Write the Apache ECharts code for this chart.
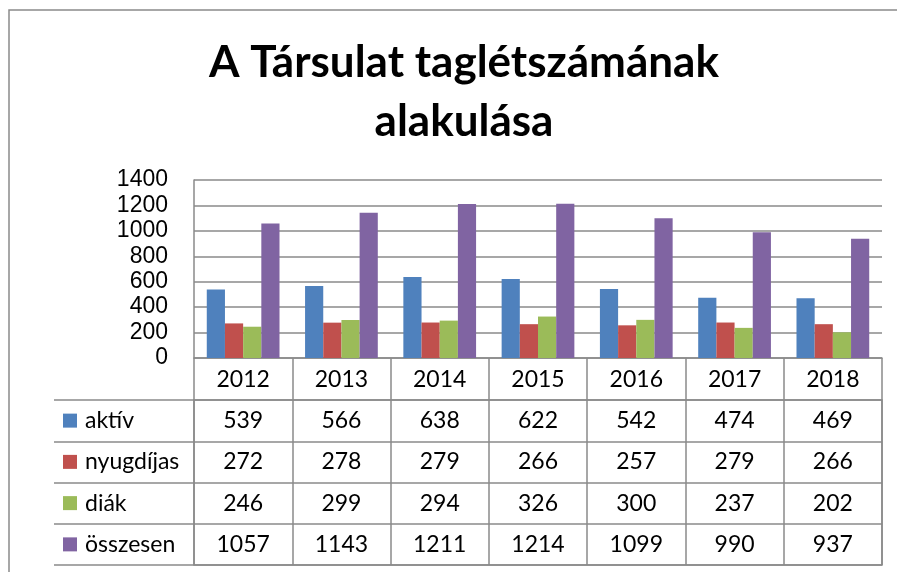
<!DOCTYPE html>
<html>
<head>
<meta charset="utf-8">
<script src="https://cdn.jsdelivr.net/npm/echarts@6/dist/echarts.min.js"></script>
<style>
  html, body { margin: 0; padding: 0; background: #fff; }
  #chart { width: 897px; height: 572px; }
</style>
</head>
<body>
<div id="chart"></div>
<script>
// évek és a tagság adatai
const years = ['2012', '2013', '2014', '2015', '2016', '2017', '2018'];
const seriesNames = ['aktív', 'nyugdíjas', 'diák', 'összesen'];
const aktiv = [539, 566, 638, 622, 542, 474, 469];
const nyugdijas = [272, 278, 279, 266, 257, 279, 266];
const diak = [246, 299, 294, 326, 300, 237, 202];
const osszesen = [1057, 1143, 1211, 1214, 1099, 990, 937];
const yTicks = [0, 200, 400, 600, 800, 1000, 1200, 1400];

const colors = ['#4F81BD', '#C0504D', '#9BBB59', '#8064A2'];
const lineColor = '#8a8a8a';
const tableFont = 'Lato';
const tableSize = 23;

const allValues = [aktiv, nyugdijas, diak, osszesen];

// adattábla cellái: [év, sor, érték]
const tableData = [];
allValues.forEach((vals, row) => {
    vals.forEach((v, col) => tableData.push([col, row, v]));
});

const chart = echarts.init(document.getElementById('chart'));

const rich = { t: { fontFamily: tableFont, fontSize: tableSize, color: '#000', padding: [0, 0, 0, 8] } };
colors.forEach((c, i) => {
    rich['s' + i] = { backgroundColor: c, width: 14, height: 14 };
});

const option = {
    animation: false,
    color: colors,
    title: {
        text: 'A Társulat taglétszámának\nalakulása',
        left: 459,
        textAlign: 'center',
        top: 28,
        textStyle: {
            fontFamily: tableFont,
            fontWeight: 'bold',
            fontSize: 44,
            lineHeight: 59,
            color: '#000'
        }
    },
    graphic: [{
        type: 'rect',
        shape: { x: 9, y: 10, width: 1000, height: 1000 },
        style: { fill: 'none', stroke: lineColor, lineWidth: 1.5 },
        silent: true
    }],
    grid: [
        { left: 194, right: 15, top: 180, height: 178 },
        { left: 194, right: 15, top: 400, height: 165, show: true, borderColor: lineColor, borderWidth: 1.5 }
    ],
    xAxis: [{
        type: 'category',
        gridIndex: 0,
        data: years,
        axisLine: { lineStyle: { color: lineColor, width: 1.5 } },
        axisTick: { show: true, length: 42, interval: 0, alignWithLabel: false, lineStyle: { color: lineColor, width: 1.5 } },
        axisLabel: { fontFamily: tableFont, fontSize: tableSize, color: '#000', margin: 10 }
    }, {
        type: 'category',
        gridIndex: 1,
        data: years,
        axisLine: { show: false },
        axisTick: { show: false },
        axisLabel: { show: false },
        splitLine: { show: true, interval: 0, lineStyle: { color: lineColor, width: 1.5 } }
    }],
    yAxis: [{
        type: 'value',
        gridIndex: 0,
        min: 0,
        max: 1400,
        interval: 200,
        axisLine: { show: true, lineStyle: { color: lineColor, width: 1.5 } },
        axisTick: { show: false },
        axisLabel: {
            fontFamily: 'Liberation Sans',
            fontSize: 23,
            color: '#000',
            margin: 26,
            formatter: v => yTicks.includes(v) ? String(v) : ''
        },
        splitLine: { lineStyle: { color: lineColor, width: 1.5 } }
    }, {
        type: 'category',
        gridIndex: 1,
        inverse: true,
        data: seriesNames,
        axisLine: { show: false },
        axisTick: { show: true, length: 140, interval: 0, lineStyle: { color: lineColor, width: 1.5 } },
        axisLabel: {
            align: 'left',
            margin: 131,
            formatter: (v, i) => '{s' + i + '|}{t|' + v + '}',
            rich: rich
        },
        splitLine: { show: true, interval: 0, lineStyle: { color: lineColor, width: 1.5 } }
    }, {
        type: 'category',
        gridIndex: 1,
        inverse: true,
        data: seriesNames,
        offset: 140,
        axisLine: { show: true, lineStyle: { color: lineColor, width: 1.5 } },
        axisTick: { show: false },
        axisLabel: { show: false }
    }],
    series: [
        ...allValues.map((vals, i) => ({
            name: seriesNames[i],
            type: 'bar',
            xAxisIndex: 0,
            yAxisIndex: 0,
            data: vals,
            barGap: '0%',
            barCategoryGap: '26%',
            itemStyle: { color: colors[i] }
        })),
        {
            type: 'heatmap',
            xAxisIndex: 1,
            yAxisIndex: 1,
            data: tableData,
            itemStyle: { color: 'rgba(0,0,0,0)' },
            label: {
                show: true,
                fontFamily: tableFont,
                fontSize: tableSize,
                color: '#000',
                formatter: p => String(p.value[2])
            },
            silent: true
        }
    ]
};

chart.setOption(option);
</script>
</body>
</html>
